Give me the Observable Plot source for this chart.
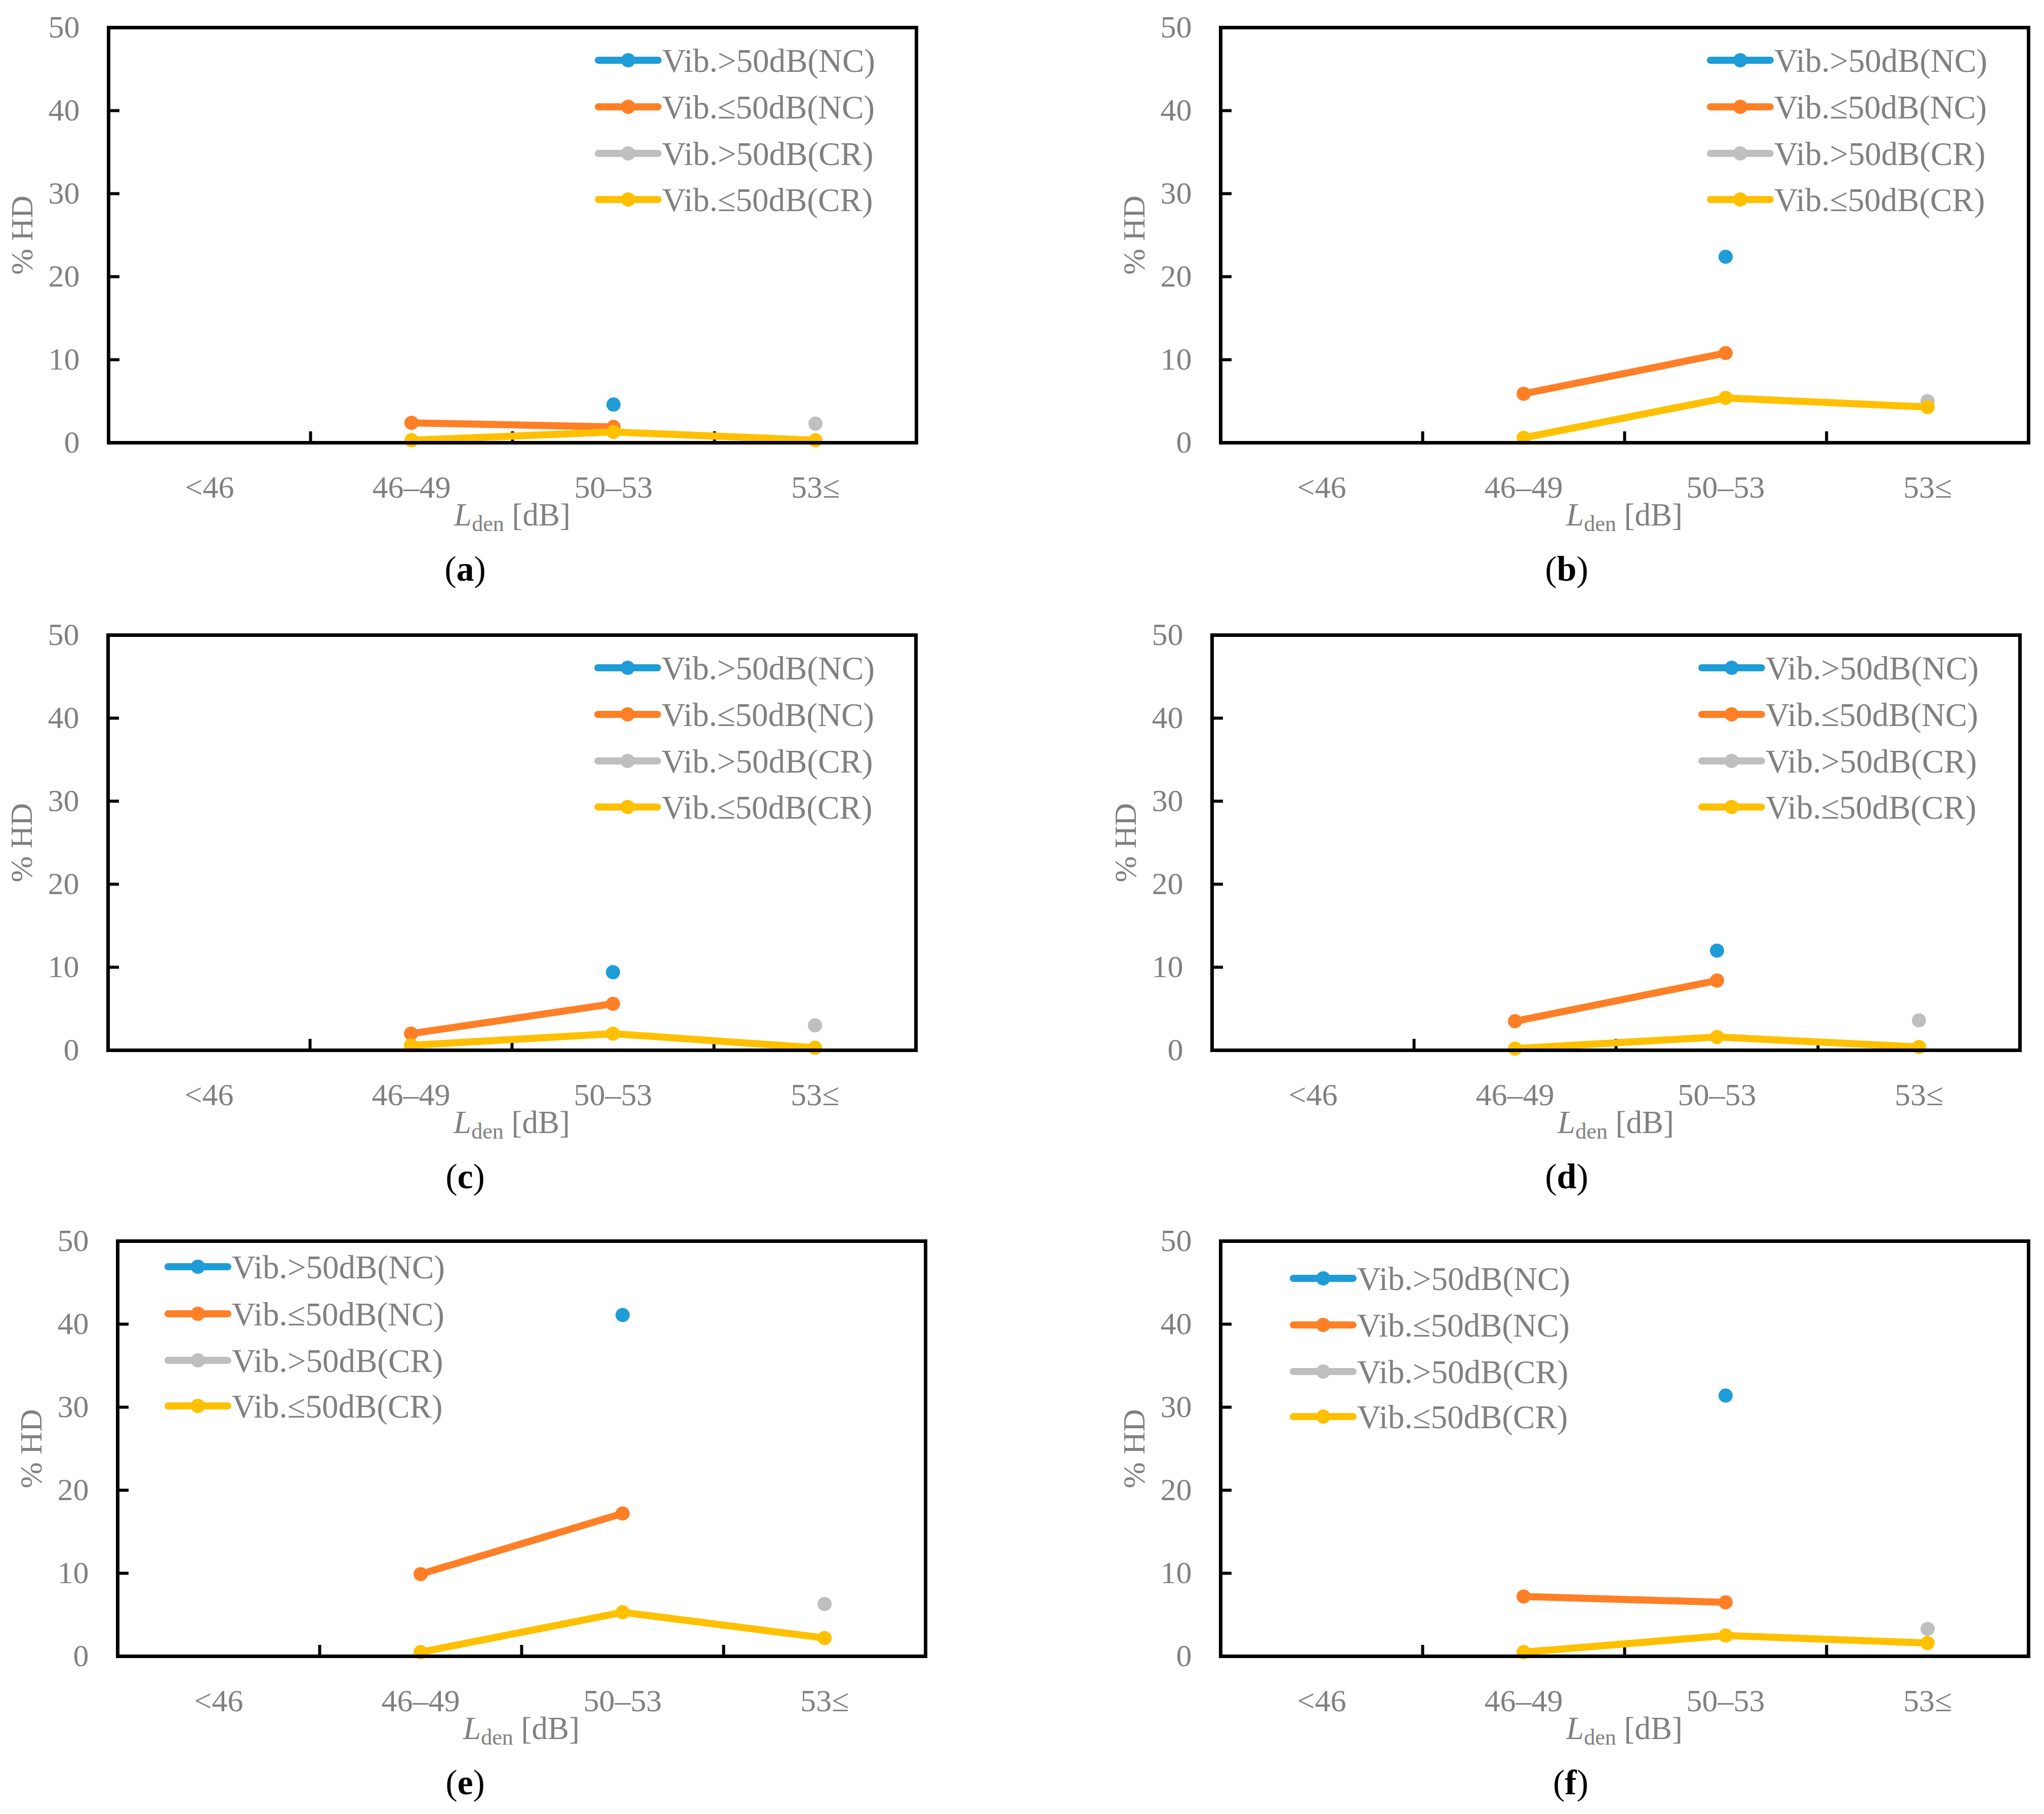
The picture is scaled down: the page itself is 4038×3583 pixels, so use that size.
<!DOCTYPE html>
<html>
<head>
<meta charset="utf-8">
<script src="https://cdn.jsdelivr.net/npm/d3@7"></script>
<script src="https://cdn.jsdelivr.net/npm/@observablehq/plot@0.6"></script>
<style>
  html, body { margin: 0; padding: 0; background: #fff; }
  #page { position: relative; width: 4038px; height: 3583px; background: #fff; font-family: "Liberation Serif", "DejaVu Serif", serif; overflow: hidden; }
  .panel { position: absolute; }
  .xlab { position: absolute; transform: translate(-50%, -50%); font-size: 63px; color: #808080; white-space: nowrap; line-height: 1; }
  .xlab sub { font-size: 44px; vertical-align: -0.25em; }
  .cap { position: absolute; transform: translate(-50%, -50%); font-size: 70px; color: #000; white-space: nowrap; line-height: 1; }
  .cap b { font-weight: bold; }
</style>
</head>
<body>
<div id="page"></div>
<script>
// ---- data ----
const categories = ["<46", "46–49", "50–53", "53≤"];
const categoryPos = [0.5, 1.5, 2.5, 3.5];   // category index centres on the x scale
const categoryBounds = [1, 2, 3];           // boundaries between categories (tick marks)
const yTicks = [0, 10, 20, 30, 40, 50];
const yInnerTicks = [10, 20, 30, 40];
const panelLabels = ["a", "b", "c", "d", "e", "f"];
const seriesNames = ["Vib.>50dB(NC)", "Vib.≤50dB(NC)", "Vib.>50dB(CR)", "Vib.≤50dB(CR)"];
const seriesColors = ["#1E9CD8", "#FF7F27", "#BFBFBF", "#FFC000"];

// values per panel (a–f), per category (<46, 46–49, 50–53, 53≤)
const vibAboveNC = [
  [null, null, 4.6, null],
  [null, null, 22.4, null],
  [null, null, 9.4, null],
  [null, null, 12.0, null],
  [null, null, 41.1, null],
  [null, null, 31.4, null]
];
const vibBelowNC = [
  [null, 2.4, 1.9, null],
  [null, 5.9, 10.8, null],
  [null, 2.0, 5.6, null],
  [null, 3.5, 8.4, null],
  [null, 9.9, 17.2, null],
  [null, 7.2, 6.5, null]
];
const vibAboveCR = [
  [null, null, null, 2.3],
  [null, null, null, 5.0],
  [null, null, null, 3.0],
  [null, null, null, 3.6],
  [null, null, null, 6.3],
  [null, null, null, 3.3]
];
const vibBelowCR = [
  [null, 0.3, 1.3, 0.3],
  [null, 0.6, 5.4, 4.3],
  [null, 0.6, 2.0, 0.3],
  [null, 0.2, 1.6, 0.4],
  [null, 0.5, 5.3, 2.2],
  [null, 0.5, 2.5, 1.6]
];
const allSeries = [vibAboveNC, vibBelowNC, vibAboveCR, vibBelowCR];

// ---- layout (page pixels) ----
const frameW = 1596, frameH = 820;
const mL = 214, mT = 60, mR = 24, mB = 200;
const layout = [
  {fl: 214,  ft: 54,   legX: 968, legY: [65, 157, 249, 340], capX: 919},
  {fl: 2411, ft: 54,   legX: 968, legY: [65, 157, 249, 340], capX: 3095},
  {fl: 213,  ft: 1254, legX: 968, legY: [65, 157, 249, 340], capX: 919},
  {fl: 2394, ft: 1254, legX: 968, legY: [65, 157, 249, 340], capX: 3095},
  {fl: 232,  ft: 2451, legX: 100, legY: [51, 144, 236, 326], capX: 919},
  {fl: 2411, ft: 2451, legX: 144, legY: [74, 166, 258, 347], capX: 3103}
];

const textGray = "#808080";
const page = document.getElementById("page");

panelLabels.forEach((lab, p) => {
  const L = layout[p];
  const marks = [];
  // inward tick marks
  marks.push(Plot.tickY(yInnerTicks, {y: d => d, insetRight: frameW - 22, stroke: "#000", strokeWidth: 6}));
  marks.push(Plot.tickX(categoryBounds, {x: d => d, insetTop: frameH - 22, stroke: "#000", strokeWidth: 6}));
  // tick labels
  marks.push(Plot.text(yTicks, {y: d => d, frameAnchor: "left", dx: -57, textAnchor: "end", lineAnchor: "middle", fill: textGray, fontSize: 62}));
  marks.push(Plot.text(categories, {x: (d, i) => categoryPos[i], frameAnchor: "bottom", dy: 89, textAnchor: "middle", lineAnchor: "middle", fill: textGray, fontSize: 62}));
  // y label
  marks.push(Plot.text(["% HD"], {frameAnchor: "left", dx: -170, rotate: -90, textAnchor: "middle", lineAnchor: "middle", fill: textGray, fontSize: 62}));
  // series
  allSeries.forEach((s, k) => {
    const vals = s[p];
    marks.push(Plot.line(vals, {x: (d, i) => categoryPos[i], y: d => d, stroke: seriesColors[k], strokeWidth: 14, strokeLinecap: "round", strokeLinejoin: "round"}));
  });
  allSeries.forEach((s, k) => {
    const vals = s[p];
    marks.push(Plot.dot(vals, {x: (d, i) => categoryPos[i], y: d => d, r: 14, fill: seriesColors[k], stroke: "none"}));
  });
  marks.push(Plot.frame({stroke: "#000", strokeWidth: 7}));

  const svg = Plot.plot({
    width: mL + frameW + mR,
    height: mT + frameH + mB,
    marginLeft: mL, marginTop: mT, marginRight: mR, marginBottom: mB,
    x: {type: "linear", domain: [0, 4], axis: null},
    y: {type: "linear", domain: [0, 50], axis: null},
    style: {fontFamily: "'Liberation Serif', serif", background: "transparent", maxWidth: "none", overflow: "visible"},
    marks
  });

  // legend inside the frame
  const g = d3.select(svg).append("g").attr("class", "legend").attr("text-anchor", "start");
  seriesNames.forEach((name, k) => {
    const x0 = mL + L.legX, y0 = mT + L.legY[k];
    g.append("line").attr("x1", x0).attr("x2", x0 + 118).attr("y1", y0).attr("y2", y0)
      .attr("stroke", seriesColors[k]).attr("stroke-width", 14).attr("stroke-linecap", "round");
    g.append("circle").attr("cx", x0 + 59).attr("cy", y0).attr("r", 14).attr("fill", seriesColors[k]);
    g.append("text").attr("x", x0 + 126).attr("y", y0).attr("dy", "0.35em")
      .attr("text-anchor", "start")
      .attr("font-size", 65).attr("fill", textGray).attr("font-family", "'Liberation Serif', serif")
      .text(name);
  });

  const div = document.createElement("div");
  div.className = "panel";
  div.style.left = (L.fl - mL) + "px";
  div.style.top = (L.ft - mT) + "px";
  div.appendChild(svg);
  page.appendChild(div);

  // x-axis title
  const xl = document.createElement("div");
  xl.className = "xlab";
  xl.style.left = (L.fl + frameW / 2) + "px";
  xl.style.top = (L.ft + frameH + 147) + "px";
  xl.innerHTML = "<i>L</i><sub>den</sub> [dB]";
  page.appendChild(xl);

  // panel caption
  const cap = document.createElement("div");
  cap.className = "cap";
  cap.style.left = L.capX + "px";
  cap.style.top = (L.ft + frameH + 250) + "px";
  cap.innerHTML = "(<b>" + lab + "</b>)";
  page.appendChild(cap);
});
</script>
</body>
</html>
